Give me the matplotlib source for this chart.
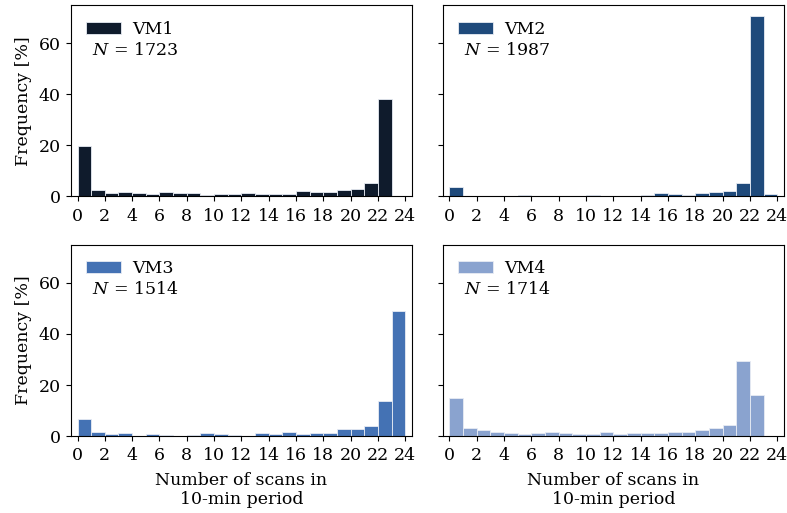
import numpy as np
import matplotlib.pyplot as plt

plt.rcParams['font.family'] = 'DejaVu Serif'
plt.rcParams['mathtext.fontset'] = 'dejavuserif'

# Share of 10-min periods (%) per number of scans, bins start at 0, 1, 2, ...
vm1 = [19.9, 2.5, 1.2, 1.7, 1.2, 0.9, 1.8, 1.4, 1.4, 0.65, 0.9, 0.9, 1.3, 0.8,
       1.0, 1.0, 2.0, 1.7, 1.7, 2.6, 3.0, 5.4, 38.4]
vm2 = [3.8, 0.05, 0.05, 0.1, 0.1, 0.4, 0.2, 0.2, 0.2, 0.2, 0.65, 0.3, 0.1, 0.3,
       0.65, 1.3, 1.0, 0.65, 1.3, 1.8, 2.2, 5.1, 70.7, 0.9]
vm3 = [6.7, 1.4, 0.9, 1.2, 0.1, 0.65, 0.5, 0.1, 0.5, 1.0, 0.8, 0.5, 0.1, 1.0,
       0.65, 1.4, 0.9, 1.0, 1.0, 2.6, 2.9, 4.1, 13.7, 48.9]
vm4 = [14.8, 3.3, 2.35, 1.7, 1.05, 0.65, 1.05, 1.4, 1.05, 0.8, 0.65, 1.4, 0.65,
       1.2, 1.3, 1.05, 1.4, 1.4, 2.2, 3.0, 4.4, 29.3, 15.9]

names = ['VM1', 'VM2', 'VM3', 'VM4']
counts = [1723, 1987, 1514, 1714]
series = [vm1, vm2, vm3, vm4]
colors = ['#0f1b2c', '#1f4a7b', '#4472b4', '#8aa3cf']

fig, axes = plt.subplots(2, 2, figsize=(7.87, 5.13), dpi=100, sharey=True)
fig.subplots_adjust(left=0.0898, right=0.9962, top=0.990, bottom=0.150,
                    wspace=0.089, hspace=0.252)

for ax, name, n, vals, c in zip(axes.flat, names, counts, series, colors):
    x = np.arange(len(vals))
    ax.bar(x, vals, width=1, align='edge', color=c, edgecolor='#e8ecf4',
           linewidth=0.6, label=name)
    ax.set_xlim(-0.5, 24.5)
    ax.set_ylim(0, 75)
    ax.set_xticks(np.arange(0, 25, 2))
    ax.set_yticks([0, 20, 40, 60])
    ax.tick_params(labelsize=12.5)
    ax.tick_params(axis='x', pad=4.5)
    ax.legend(loc='upper left', frameon=False, fontsize=12.5,
              borderaxespad=0.5, handletextpad=0.63)
    ax.text(0.063, 0.74, f'$N$ = {n}', transform=ax.transAxes, fontsize=12.5)

for ax in axes[:, 0]:
    ax.set_ylabel('Frequency [%]', fontsize=12.5, labelpad=5)
for ax in axes[1, :]:
    ax.set_xlabel('Number of scans in\n10-min period', fontsize=12.5,
                  labelpad=5.5)

plt.savefig('out.png', dpi=100)
